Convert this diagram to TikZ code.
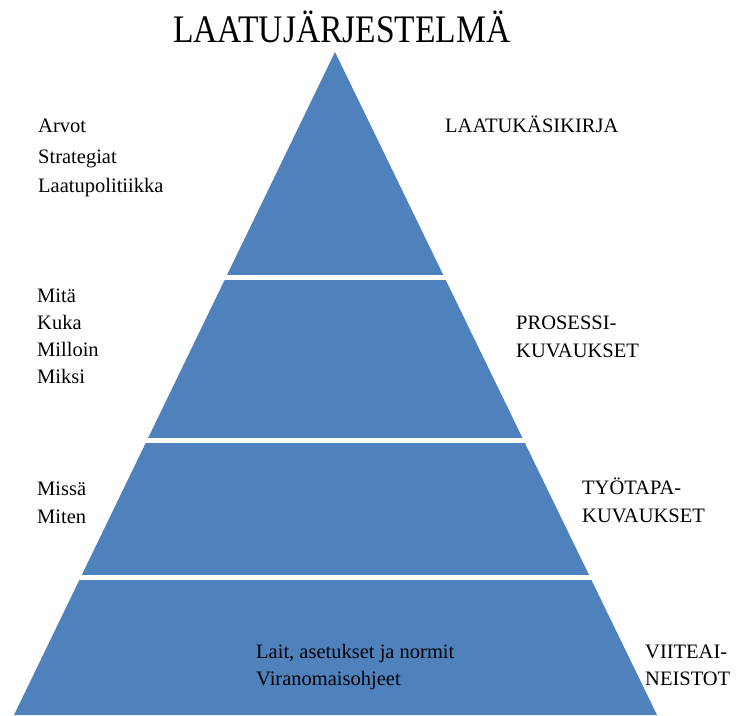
\documentclass[tikz,border=0pt]{standalone}
\usepackage{fontspec}
\setmainfont{Liberation Serif}
\newfontfamily\tnr{Liberation Serif}
\definecolor{pyrblue}{HTML}{4F81BD}
\tikzset{
  lbl/.style={anchor=base west, inner sep=0pt, font=\tnr\fontsize{20.5}{24}\selectfont},
  gap/.style={draw=white, line width=4.5pt},
}
\begin{document}
\begin{tikzpicture}[x=1pt,y=-1pt]
\useasboundingbox (0,0) rectangle (738,715);
% pyramid
\coordinate (apex) at (335,52);
\coordinate (bl) at (14,715);
\coordinate (br) at (657,715);
\fill[pyrblue] (apex) -- (br) -- (bl) -- cycle;
\coordinate (g1a) at (200,277.5); \coordinate (g1b) at (470,277.5);
\coordinate (g2a) at (120,440.5); \coordinate (g2b) at (550,440.5);
\coordinate (g3a) at (60,577.5);  \coordinate (g3b) at (620,577.5);
\draw[gap] (g1a) -- (g1b);
\draw[gap] (g2a) -- (g2b);
\draw[gap] (g3a) -- (g3b);
% title
\node[anchor=base west, inner sep=0pt, xscale=0.86, font=\tnr\fontsize{39}{45}\selectfont] (title) at (173,42) {LAATUJÄRJESTELMÄ};
% left texts
\node[lbl] (arvot) at (38,132) {Arvot};
\node[lbl] (strat) at (38,163) {Strategiat};
\node[lbl] (lpol) at (38,192) {Laatupolitiikka};
\node[lbl] (mita) at (37,302) {Mitä};
\node[lbl] (kuka) at (37,329) {Kuka};
\node[lbl] (milloin) at (37,356) {Milloin};
\node[lbl] (miksi) at (37,383) {Miksi};
\node[lbl] (missa) at (37,495) {Missä};
\node[lbl] (miten) at (37,523) {Miten};
\node[lbl] (lait) at (256,658) {Lait, asetukset ja normit};
\node[lbl] (viran) at (256,685) {Viranomaisohjeet};
% right texts
\node[lbl] (lkk) at (445,132) {LAATUKÄSIKIRJA};
\node[lbl] (pros1) at (516,329) {PROSESSI-};
\node[lbl] (pros2) at (516,357) {KUVAUKSET};
\node[lbl] (tyo1) at (582,494) {TYÖTAPA-};
\node[lbl] (tyo2) at (582,522) {KUVAUKSET};
\node[lbl] (viit1) at (645,658) {VIITEAI-};
\node[lbl] (viit2) at (645,685) {NEISTOT};
\end{tikzpicture}
\end{document}
